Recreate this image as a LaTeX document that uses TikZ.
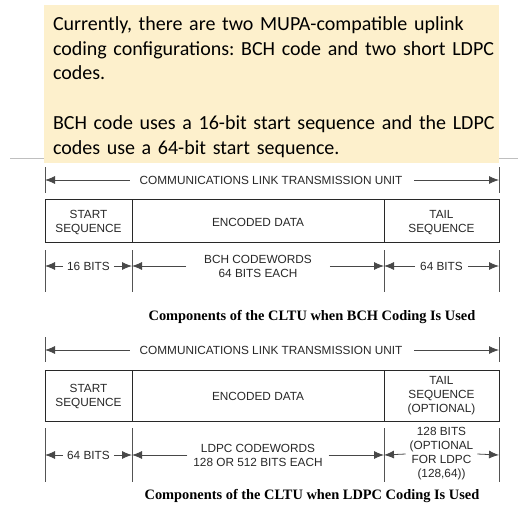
\documentclass[tikz,border=0pt]{standalone}
\usepackage{fontspec}
\setmainfont{Liberation Sans}
\newfontfamily\calib{Carlito}
\newfontfamily\timesf{Liberation Serif}
\usetikzlibrary{arrows.meta}
\definecolor{paleyellow}{RGB}{253,240,204}
\definecolor{dimgrey}{RGB}{40,40,40}
\frenchspacing
\tikzset{
  every node/.style={inner sep=0pt, outer sep=0pt},
  lbl/.style={font=\fontsize{11.8}{14}\selectfont, align=center, text=dimgrey},
  tick/.style={draw=dimgrey!80, line width=0.9pt},
  dimarrow/.style={draw=dimgrey!85, line width=0.8pt, -{Latex[length=10pt,width=8pt]}},
  cell/.style={draw=dimgrey, line width=0.9pt},
  caption/.style={font=\timesf\bfseries\fontsize{14.4}{16}\selectfont, anchor=base},
}
\begin{document}
\begin{tikzpicture}[x=1pt,y=-1pt]
\useasboundingbox (0,0) rectangle (518,519);
\fill[white] (0,0) rectangle (518,519);
% grey rule
\draw[black!25, line width=0.8pt] (10,158) -- (518,158);
% yellow box
\fill[paleyellow] (44,5) rectangle (499,163);
\node[anchor=north west, align=left, font=\calib\fontsize{20}{24.8}\selectfont, text width=450pt] (para) at (53,16.5)
{Currently, there are two MUPA-compatible uplink\\coding configurations: BCH code and two short LDPC\\codes.\\[24.8pt]BCH code uses a 16-bit start sequence and the LDPC\\codes use a 64-bit start sequence.};

% ===== Diagram 1 =====
\coordinate (t1l) at (45,167); \coordinate (t1lb) at (45,193);
\coordinate (t1r) at (499,167); \coordinate (t1rb) at (499,193);
\draw[tick] (t1l) -- (t1lb);
\draw[tick] (t1r) -- (t1rb);
\node[lbl] (clt1) at (271,180) {COMMUNICATIONS LINK TRANSMISSION UNIT};
\coordinate (a1l) at (45,180); \coordinate (a1r) at (499,180);
\draw[dimarrow] ([xshift=-10pt]clt1.west) -- (a1l);
\draw[dimarrow] ([xshift=12pt]clt1.east) -- (a1r);

\draw[cell] (45,199) rectangle (499,242);
\draw[cell] (132,199) -- (132,242);
\draw[cell] (384,199) -- (384,242);
\node[lbl] (ss1) at (88.5,222.5) {START\\SEQUENCE};
\node[lbl] (ed1) at (258,222.5) {ENCODED DATA};
\node[lbl] (ts1) at (441.5,222.5) {TAIL\\SEQUENCE};

\foreach \x/\n in {45/b1a,132/b1b,384/b1c,499/b1d}{
  \coordinate (\n) at (\x,250); \coordinate (\n e) at (\x,292);
  \draw[tick] (\n) -- (\n e);
}
\node[lbl] (bits16) at (88.5,266) {16 BITS};
\node[lbl] (bch) at (258,266) {BCH CODEWORDS\\64 BITS EACH};
\node[lbl] (bits64t) at (441.5,266) {64 BITS};
\draw[dimarrow] ([xshift=-4pt]bits16.west) -- (45,266);
\draw[dimarrow] ([xshift=4pt]bits16.east) -- (132,266);
\draw[dimarrow] ([xshift=-18pt]bch.west) -- (132,266);
\draw[dimarrow] ([xshift=18pt]bch.east) -- (384,266);
\draw[dimarrow] ([xshift=-5pt]bits64t.west) -- (384,266);
\draw[dimarrow] ([xshift=5pt]bits64t.east) -- (499,266);

\node[caption] (cap1) at (312,320) {Components of the CLTU when BCH Coding Is Used};

% ===== Diagram 2 =====
\draw[tick] (45,337) -- (45,362);
\draw[tick] (499,337) -- (499,362);
\node[lbl] (clt2) at (271,350) {COMMUNICATIONS LINK TRANSMISSION UNIT};
\draw[dimarrow] ([xshift=-10pt]clt2.west) -- (45,350);
\draw[dimarrow] ([xshift=12pt]clt2.east) -- (499,350);

\draw[cell] (45,370) rectangle (499,421);
\draw[cell] (132,370) -- (132,421);
\draw[cell] (384,370) -- (384,421);
\node[lbl] (ss2) at (88.5,396) {START\\SEQUENCE};
\node[lbl] (ed2) at (258,396) {ENCODED DATA};
\node[lbl] (ts2) at (441.5,396) {TAIL\\SEQUENCE\\(OPTIONAL)};

\foreach \x in {45,132,384,499}{
  \draw[tick] (\x,428) -- (\x,482);
}
\node[lbl] (bits64) at (88.5,455) {64 BITS};
\node[lbl] (ldpc) at (258,455) {LDPC CODEWORDS\\128 OR 512 BITS EACH};
\node[lbl] (bits128) at (441.5,454) {128 BITS\\(OPTIONAL\\FOR LDPC\\(128,64))};
\draw[dimarrow] ([xshift=-4pt]bits64.west) -- (45,455);
\draw[dimarrow] ([xshift=4pt]bits64.east) -- (132,455);
\draw[dimarrow] ([xshift=-6pt]ldpc.west) -- (132,455);
\draw[dimarrow] ([xshift=6pt]ldpc.east) -- (384,455);
\draw[dimarrow] ([xshift=-4pt]bits128.west) -- (384,455);
\draw[dimarrow] ([xshift=4pt]bits128.east) -- (499,455);

\node[caption] (cap2) at (312,499) {Components of the CLTU when LDPC Coding Is Used};
\end{tikzpicture}
\end{document}
